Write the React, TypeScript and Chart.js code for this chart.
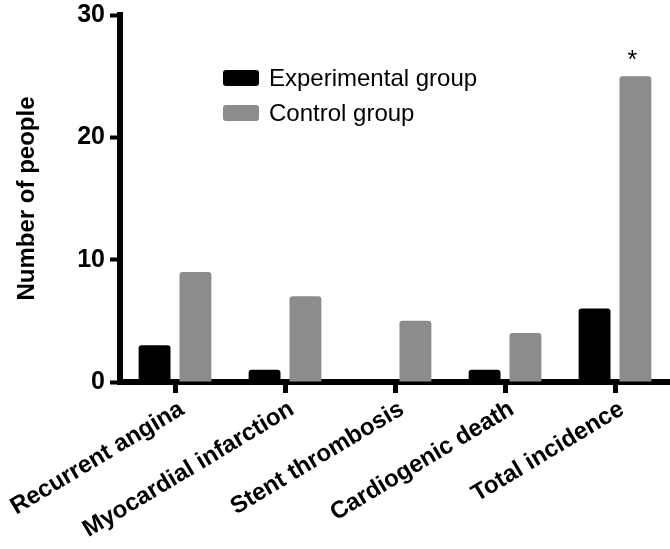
import React, { useEffect, useRef } from "react";
import { Chart, registerables } from "chart.js";

Chart.register(...registerables);

const categories = [
  "Recurrent angina",
  "Myocardial infarction",
  "Stent thrombosis",
  "Cardiogenic death",
  "Total incidence",
];
const experimentalValues = [3, 1, 0, 1, 6];
const controlValues = [9, 7, 5, 4, 25];
const seriesLabels = ["Experimental group", "Control group"];
const seriesColors = ["#000000", "#8c8c8c"];
const yTicks = [0, 10, 20, 30];
const yTitle = "Number of people";
const significanceMark = "*";
const significanceIndex = 4;

const FONT = "'Liberation Sans', Arial, Helvetica, sans-serif";

const legendPlugin = {
  id: "customLegend",
  afterDraw(chart: any) {
    const { ctx, chartArea } = chart;
    const x0 = chartArea.left + 103;
    const y0 = chartArea.top + 55;
    ctx.save();
    chart.data.datasets.forEach((ds: any, i: number) => {
      const y = y0 + i * 35;
      ctx.fillStyle = ds.backgroundColor;
      ctx.beginPath();
      if ((ctx as any).roundRect) (ctx as any).roundRect(x0, y, 36, 16, 3);
      else ctx.rect(x0, y, 36, 16);
      ctx.fill();
      ctx.fillStyle = "#000";
      ctx.font = `24px ${FONT}`;
      ctx.textBaseline = "middle";
      ctx.textAlign = "left";
      ctx.fillText(ds.label, x0 + 46, y + 9);
    });
    ctx.restore();
  },
};

const starPlugin = {
  id: "significance",
  afterDatasetsDraw(chart: any) {
    const meta = chart.getDatasetMeta(1);
    const el = meta.data[significanceIndex];
    if (!el) return;
    const { ctx } = chart;
    ctx.save();
    ctx.fillStyle = "#000";
    ctx.font = `25px ${FONT}`;
    ctx.textAlign = "center";
    ctx.textBaseline = "alphabetic";
    ctx.fillText(significanceMark, el.x - 3, el.y - 8);
    ctx.restore();
  },
};

export default function App() {
  const ref = useRef<HTMLCanvasElement | null>(null);
  useEffect(() => {
    document.body.style.margin = "0";
    const canvas = ref.current;
    if (!canvas) return;
    const barStyle = {
      borderRadius: { topLeft: 3, topRight: 3, bottomLeft: 0, bottomRight: 0 },
      borderSkipped: false,
      categoryPercentage: 0.743,
      barPercentage: 0.78,
    };
    const chart = new Chart(canvas, {
      type: "bar",
      data: {
        labels: categories,
        datasets: [
          {
            label: seriesLabels[0],
            data: experimentalValues,
            backgroundColor: seriesColors[0],
            ...barStyle,
          },
          {
            label: seriesLabels[1],
            data: controlValues,
            backgroundColor: seriesColors[1],
            ...barStyle,
          },
        ],
      },
      options: {
        responsive: false,
        animation: false,
        devicePixelRatio: 1,
        layout: { padding: { top: 15, right: -3, left: 0, bottom: 0 } },
        plugins: {
          legend: { display: false },
          tooltip: { enabled: false },
        },
        scales: {
          x: {
            grid: {
              display: true,
              drawOnChartArea: false,
              drawTicks: true,
              offset: false,
              tickLength: 11,
              tickWidth: 5,
              tickColor: "#000",
            },
            border: { display: true, color: "#000", width: 6 },
            ticks: {
              color: "#000",
              font: { family: FONT, size: 24, weight: "bold" },
              minRotation: 31,
              maxRotation: 31,
              autoSkip: false,
              padding: 2,
              labelOffset: 7,
            },
            afterFit(scale: any) {
              scale.height = 167;
              scale.paddingLeft = 0;
              scale.paddingRight = 0;
            },
          },
          y: {
            min: 0,
            max: 30,
            afterBuildTicks(scale: any) {
              scale.ticks = yTicks.map((v) => ({ value: v }));
            },
            grid: {
              display: true,
              drawOnChartArea: false,
              drawTicks: true,
              tickLength: 10,
              tickWidth: 4,
              tickColor: "#000",
            },
            border: { display: true, color: "#000", width: 6 },
            ticks: {
              color: "#000",
              font: { family: FONT, size: 25, weight: "bold" },
              padding: 5,
            },
            title: {
              display: true,
              text: yTitle,
              color: "#000",
              font: { family: FONT, size: 24, weight: "bold" },
              padding: { top: 13, bottom: 0 },
            },
            afterFit(scale: any) {
              scale.width = 120;
              scale.paddingTop = 0;
              scale.paddingBottom = 0;
            },
          },
        },
      },
      plugins: [legendPlugin, starPlugin],
    });
    return () => chart.destroy();
  }, []);
  return (
    <div style={{ position: "absolute", left: 0, top: 0, width: 670, height: 549, background: "#fff", overflow: "hidden" }}>
      <canvas ref={ref} width={670} height={549} style={{ display: "block" }} />
    </div>
  );
}
